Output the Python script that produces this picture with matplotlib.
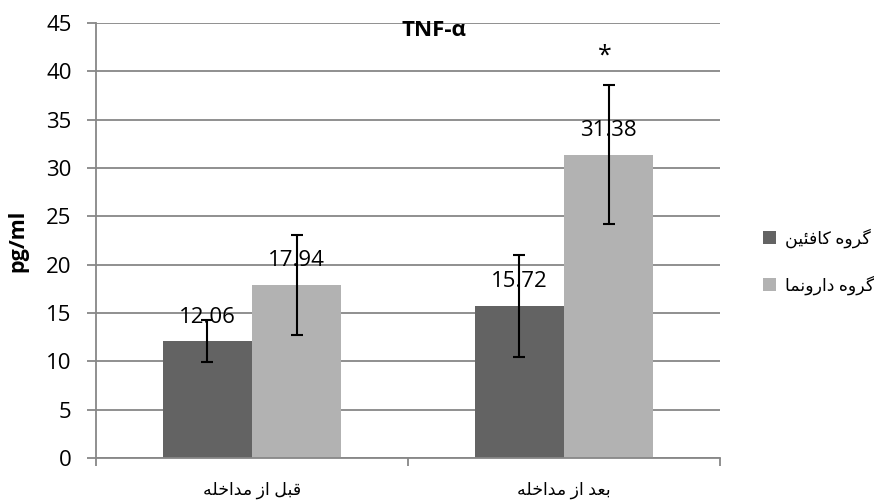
import numpy as np
import matplotlib
matplotlib.use('Agg')
import matplotlib.pyplot as plt

# data
categories = ['قبل از مداخله', 'بعد از مداخله']
series_names = ['گروه کافئین', 'گروه دارونما']
caffeine = [12.06, 15.72]
placebo = [17.94, 31.38]
caffeine_err = [2.17, 5.27]
placebo_err = [5.17, 7.2]
y_ticks = [0, 5, 10, 15, 20, 25, 30, 35, 40, 45]
title = 'TNF-α'
y_label = 'pg/ml'
marker_text = '*'

plt.rcParams['font.family'] = ['Open Sans', 'DejaVu Sans']

# simple persian shaping (matplotlib draws left to right, no joining)
FORMS = {
    '\u0627': (0xFE8D, 0xFE8E, None, None),
    '\u0628': (0xFE8F, 0xFE90, 0xFE91, 0xFE92),
    '\u062E': (0xFEA5, 0xFEA6, 0xFEA7, 0xFEA8),
    '\u062F': (0xFEA9, 0xFEAA, None, None),
    '\u0631': (0xFEAD, 0xFEAE, None, None),
    '\u0632': (0xFEAF, 0xFEB0, None, None),
    '\u0639': (0xFEC9, 0xFECA, 0xFECB, 0xFECC),
    '\u0641': (0xFED1, 0xFED2, 0xFED3, 0xFED4),
    '\u0642': (0xFED5, 0xFED6, 0xFED7, 0xFED8),
    '\u0644': (0xFEDD, 0xFEDE, 0xFEDF, 0xFEE0),
    '\u0645': (0xFEE1, 0xFEE2, 0xFEE3, 0xFEE4),
    '\u0646': (0xFEE5, 0xFEE6, 0xFEE7, 0xFEE8),
    '\u0647': (0xFEE9, 0xFEEA, 0xFEEB, 0xFEEC),
    '\u0648': (0xFEED, 0xFEEE, None, None),
    '\u0626': (0xFE89, 0xFE8A, 0xFE8B, 0xFE8C),
    '\u06CC': (0xFBFC, 0xFBFD, 0xFBFE, 0xFBFF),
    '\u06A9': (0xFB8E, 0xFB8F, 0xFB90, 0xFB91),
    '\u06AF': (0xFB92, 0xFB93, 0xFB94, 0xFB95),
}


def shape_fa(text):
    out = []
    for i, c in enumerate(text):
        if c not in FORMS:
            out.append(c)
            continue
        prev = text[i - 1] if i > 0 else ''
        nxt = text[i + 1] if i + 1 < len(text) else ''
        iso, fin, ini, med = FORMS[c]
        join_prev = prev in FORMS and FORMS[prev][2] is not None
        join_next = ini is not None and nxt in FORMS
        if join_prev and join_next:
            out.append(chr(med))
        elif join_prev:
            out.append(chr(fin))
        elif join_next:
            out.append(chr(ini))
        else:
            out.append(chr(iso))
    return ''.join(out)[::-1]


grid_color = '#878787'
dark = '#636363'
light = '#b2b2b2'
width = 0.286

fig = plt.figure(figsize=(8.74, 5.04), dpi=100)
ax = fig.add_axes([0.1098, 0.0913, 0.7140, 0.8631])

x = np.arange(len(categories))
b1 = ax.bar(x - width / 2, caffeine, width, color=dark, zorder=2)
b2 = ax.bar(x + width / 2, placebo, width, color=light, zorder=2)

ax.errorbar(x - width / 2, caffeine, yerr=caffeine_err, fmt='none', ecolor='black',
            elinewidth=1.5, capsize=4.3, capthick=1.5, zorder=4)
ax.errorbar(x + width / 2, placebo, yerr=placebo_err, fmt='none', ecolor='black',
            elinewidth=1.5, capsize=4.3, capthick=1.5, zorder=4)

for xs, vals in [(x - width / 2, caffeine), (x + width / 2, placebo)]:
    for xi, v in zip(xs, vals):
        ax.annotate(f'{v:.2f}', (xi, v), xytext=(0, 13.5), textcoords='offset points',
                    ha='center', va='baseline', fontsize=16, zorder=3)

# significance mark above the second placebo bar
ax.annotate(marker_text, (x[1] + width / 2, placebo[1] + placebo_err[1]), xytext=(-3, 21),
            textcoords='offset points', ha='center', va='center', fontsize=18)

ax.set_xlim(-0.5, len(categories) - 0.5)
ax.set_ylim(0, 45)
ax.set_yticks(y_ticks)
ax.set_axisbelow(True)
ax.yaxis.grid(True, color=grid_color, lw=1.3)

for s in ['top', 'right']:
    ax.spines[s].set_visible(False)
for s in ['left', 'bottom']:
    ax.spines[s].set_color(grid_color)
    ax.spines[s].set_linewidth(1.3)

ax.set_xticks(x)
ax.set_xticklabels([shape_fa(c) for c in categories])
ax.set_xticks(np.arange(len(categories) + 1) - 0.5, minor=True)
ax.tick_params(axis='x', which='major', length=0, pad=17, labelsize=12.5)
ax.tick_params(axis='x', which='minor', length=6, color=grid_color, width=1.3)
ax.tick_params(axis='y', length=6.5, color=grid_color, width=1.3, pad=11, labelsize=16)

ax.set_ylabel(y_label, fontsize=15.5, fontweight='bold', labelpad=13)

fig.text(434 / 874, 1 - 31 / 504, title, ha='center', va='center', fontsize=16,
         fontweight='bold')

ax.legend([b1, b2], [shape_fa(n) for n in series_names], loc='center left',
          bbox_to_anchor=(763 / 874, 1 - 261.5 / 504), bbox_transform=fig.transFigure,
          frameon=False, fontsize=12.5, handlelength=0.75, handleheight=0.75,
          handletextpad=0.5, labelspacing=1.6, borderpad=0, borderaxespad=0)

fig.savefig('out.png', dpi=100)
